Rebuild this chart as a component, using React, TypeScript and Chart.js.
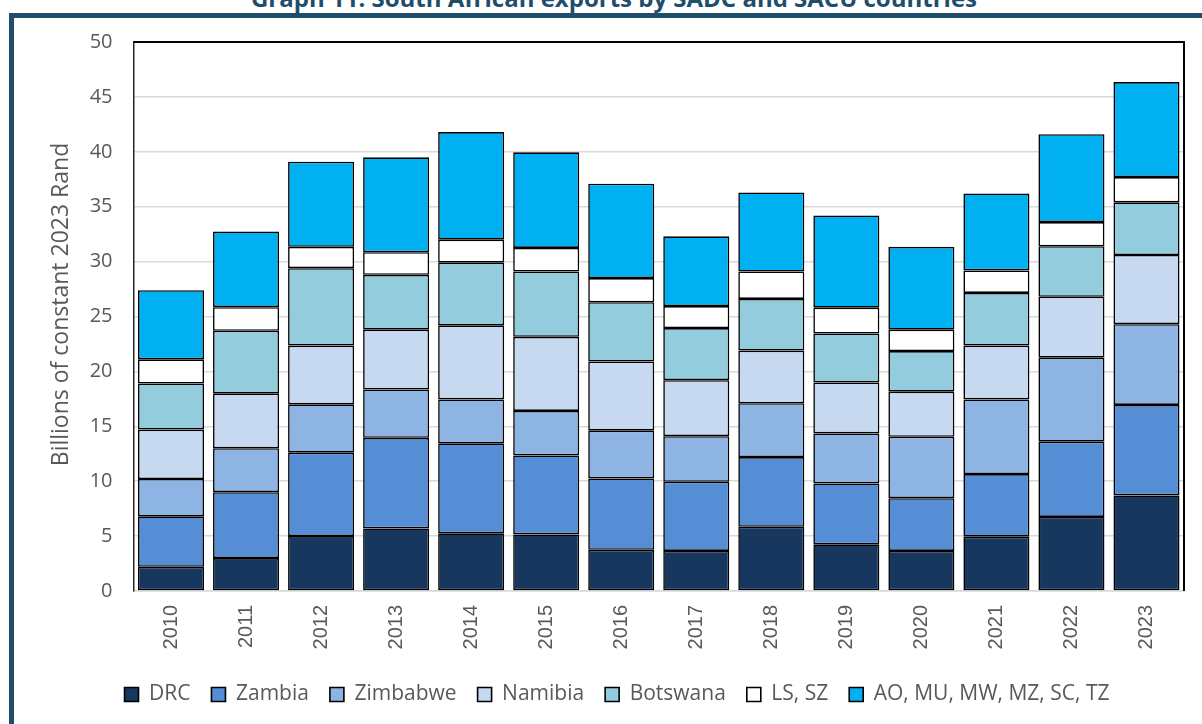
import { useEffect, useRef } from "react";
import { Chart, registerables } from "chart.js";

Chart.register(...registerables);

// Categories (years) and export values per destination, billions of constant 2023 Rand
const years = ["2010", "2011", "2012", "2013", "2014", "2015", "2016", "2017", "2018", "2019", "2020", "2021", "2022", "2023"];
const drc = [2.2, 3.0, 5.0, 5.7, 5.25, 5.15, 3.75, 3.65, 5.85, 4.25, 3.65, 4.95, 6.75, 8.7];
const zambia = [4.6, 6.0, 7.6, 8.25, 8.2, 7.2, 6.5, 6.3, 6.35, 5.55, 4.8, 5.7, 6.85, 8.25];
const zimbabwe = [3.4, 4.0, 4.4, 4.4, 4.0, 4.05, 4.35, 4.15, 4.9, 4.55, 5.6, 6.8, 7.65, 7.35];
const namibia = [4.5, 5.0, 5.35, 5.45, 6.75, 6.75, 6.3, 5.1, 4.8, 4.65, 4.1, 4.9, 5.55, 6.3];
const botswana = [4.2, 5.7, 7.05, 5.0, 5.7, 5.95, 5.4, 4.75, 4.7, 4.45, 3.7, 4.8, 4.6, 4.8];
const lsSz = [2.2, 2.15, 1.95, 2.05, 2.1, 2.15, 2.2, 2.0, 2.5, 2.35, 1.95, 2.05, 2.2, 2.3];
const others = [6.3, 6.9, 7.75, 8.65, 9.8, 8.7, 8.6, 6.35, 7.2, 8.4, 7.55, 7.0, 8.0, 8.65];

const seriesNames = ["DRC", "Zambia", "Zimbabwe", "Namibia", "Botswana", "LS, SZ", "AO, MU, MW, MZ, SC, TZ"];
const seriesColors = ["#17375E", "#558ED5", "#8EB4E3", "#C6D9F1", "#93CDDD", "#FFFFFF", "#00B0F0"];
const yTicks = [0, 5, 10, 15, 20, 25, 30, 35, 40, 45, 50];
const yTitle = "Billions of constant 2023 Rand";

const TEXT = "#595959";
const SANS = '"Open Sans", sans-serif';

// Black outline on the top and right sides of the plot area
const plotFrame = {
  id: "plotFrame",
  afterDatasetsDraw(chart: Chart) {
    const { ctx, chartArea } = chart;
    ctx.save();
    ctx.strokeStyle = "#000000";
    ctx.lineWidth = 2;
    ctx.beginPath();
    ctx.moveTo(chartArea.left, chartArea.top);
    ctx.lineTo(chartArea.right, chartArea.top);
    ctx.lineTo(chartArea.right, chartArea.bottom);
    ctx.stroke();
    ctx.restore();
  },
};

// Vertical axis title, centred a little above the middle of the value axis
const valueAxisTitle = {
  id: "valueAxisTitle",
  afterDraw(chart: Chart) {
    const { ctx, chartArea } = chart;
    const cx = chartArea.left - 72;
    const cy = (chartArea.top + chartArea.bottom) / 2 - 12;
    ctx.save();
    ctx.translate(cx, cy);
    ctx.rotate(-Math.PI / 2);
    ctx.fillStyle = TEXT;
    ctx.font = `23px ${SANS}`;
    ctx.textAlign = "center";
    ctx.textBaseline = "middle";
    ctx.fillText(yTitle, 0, 0);
    ctx.restore();
  },
};

export default function App() {
  const canvasRef = useRef<HTMLCanvasElement>(null);

  useEffect(() => {
    const values = [drc, zambia, zimbabwe, namibia, botswana, lsSz, others];
    const chart = new Chart(canvasRef.current!, {
      type: "bar",
      data: {
        labels: years,
        datasets: values.map((data, i) => ({
          label: seriesNames[i],
          data,
          backgroundColor: seriesColors[i],
          borderColor: "#000000",
          borderWidth: 1.6,
          borderSkipped: false,
          barPercentage: 0.88,
          categoryPercentage: 1,
        })),
      },
      options: {
        responsive: false,
        animation: false,
        layout: { padding: { left: 50, top: 42, right: 18, bottom: 9 } },
        plugins: {
          legend: {
            position: "bottom",
            labels: {
              boxWidth: 14,
              boxHeight: 14,
              padding: 21,
              color: TEXT,
              font: { family: SANS, size: 21 },
            },
          },
          tooltip: { enabled: false },
        },
        scales: {
          x: {
            stacked: true,
            grid: { display: false, drawTicks: false },
            border: { display: true, color: "#D9D9D9", width: 1.5 },
            ticks: {
              autoSkip: false,
              minRotation: 90,
              maxRotation: 90,
              padding: 14,
              color: TEXT,
              font: { family: '"Liberation Sans", Arial, sans-serif', size: 20 },
            },
            afterFit(scale: any) {
              scale.height = 72;
            },
          },
          y: {
            stacked: true,
            min: 0,
            max: 50,
            afterBuildTicks(scale: any) {
              scale.ticks = yTicks.map((v) => ({ value: v }));
            },
            grid: { color: "#D9D9D9", lineWidth: 1.5, drawTicks: false },
            border: { display: true, color: "#262626", width: 1.5 },
            ticks: {
              padding: 21,
              color: TEXT,
              font: { family: SANS, size: 20 },
            },
            afterFit(scale: any) {
              scale.width = 83.5;
            },
          },
        },
      },
      plugins: [plotFrame, valueAxisTitle],
    });
    return () => chart.destroy();
  }, []);

  return (
    <div
      style={{
        position: "fixed",
        left: 0,
        top: 0,
        width: 1202,
        height: 724,
        overflow: "hidden",
        background: "#FFFFFF",
      }}
    >
      <div
        style={{
          position: "absolute",
          left: 9,
          top: 13,
          width: 1300,
          height: 800,
          border: "5px solid #1F4E6B",
          boxSizing: "border-box",
        }}
      />
      <div
        style={{
          position: "absolute",
          left: 0,
          top: -14,
          width: 1228,
          textAlign: "center",
          fontFamily: SANS,
          fontWeight: 700,
          fontSize: 24,
          lineHeight: "24px",
          color: "#1F4E6B",
          whiteSpace: "nowrap",
        }}
      >
        Graph 11: South African exports by SADC and SACU countries
      </div>
      <canvas
        ref={canvasRef}
        width={1202}
        height={724}
        style={{ position: "absolute", left: 0, top: 0, width: 1202, height: 724 }}
      />
    </div>
  );
}
